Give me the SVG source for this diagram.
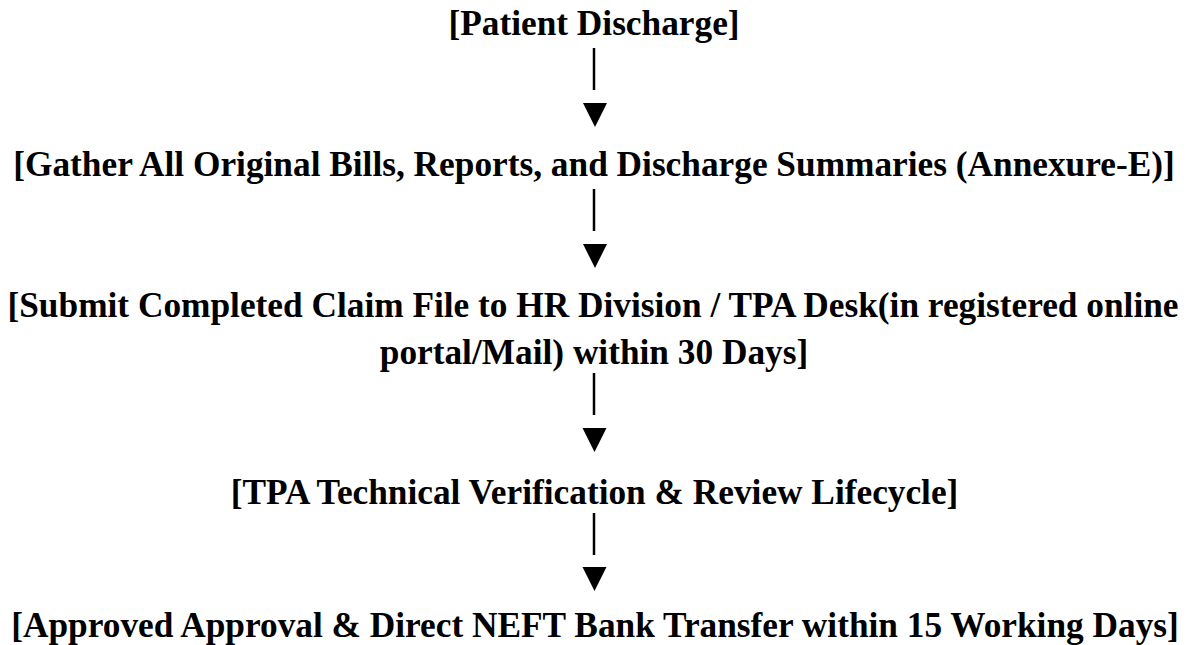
<svg xmlns="http://www.w3.org/2000/svg" width="1193" height="645" viewBox="0 0 1193 645">
<style>
.t{font-family:"Liberation Serif","Times New Roman",serif;font-weight:bold;font-size:35.3px;fill:#000;text-anchor:middle}
.c line{stroke:#000;stroke-width:2.5}
.c polygon{fill:#000}
</style>
<rect width="1193" height="645" fill="#fff"/>
<g id="n1"><text class="t" x="594" y="35">[Patient Discharge]</text></g>
<g id="n2"><text class="t" x="594" y="176">[Gather All Original Bills, Reports, and Discharge Summaries (Annexure-E)]</text></g>
<g id="n3"><text class="t" x="593" y="317">[Submit Completed Claim File to HR Division / TPA Desk(in registered online</text><text class="t" x="594" y="364">portal/Mail) within 30 Days]</text></g>
<g id="n4"><text class="t" x="594.5" y="504">[TPA Technical Verification &amp; Review Lifecycle]</text></g>
<g id="n5"><text class="t" x="595" y="637">[Approved Approval &amp; Direct NEFT Bank Transfer within 15 Working Days]</text></g>
<g id="connectors" class="c">
<line x1="594" y1="48" x2="594" y2="90"/><polygon points="583,103 607,103 595,127"/>
<line x1="594" y1="189" x2="594" y2="231"/><polygon points="583,244 607,244 595,268"/>
<line x1="594" y1="373" x2="594" y2="415"/><polygon points="582.5,428 606.5,428 594.5,452"/>
<line x1="594" y1="513" x2="594" y2="555"/><polygon points="582.5,567 606.5,567 594.5,591"/>
</g>
</svg>
